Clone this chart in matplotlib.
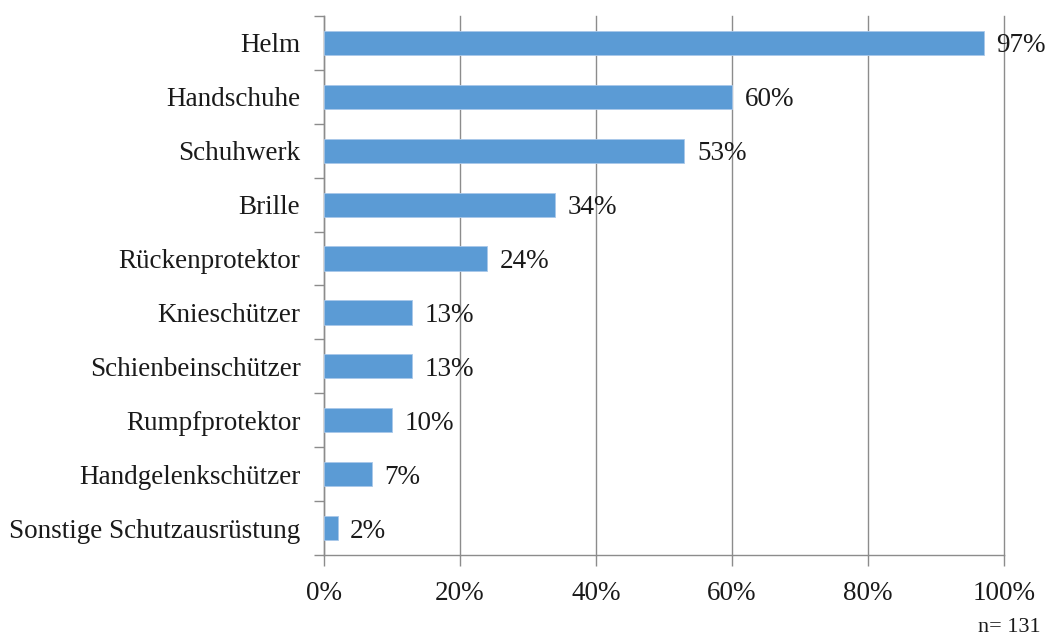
import matplotlib
matplotlib.use("Agg")
import matplotlib.pyplot as plt
from matplotlib.ticker import FixedLocator, PercentFormatter
import numpy as np

categories = [
    "Helm",
    "Handschuhe",
    "Schuhwerk",
    "Brille",
    "Rückenprotektor",
    "Knieschützer",
    "Schienbeinschützer",
    "Rumpfprotektor",
    "Handgelenkschützer",
    "Sonstige Schutzausrüstung",
]
values = [97, 60, 53, 34, 24, 13, 13, 10, 7, 2]
x_ticks = [0, 20, 40, 60, 80, 100]
sample_note = "n= 131"

plt.rcParams["font.family"] = ["Liberation Serif", "DejaVu Serif"]

bar_color = "#5B9BD5"
grid_color = "#8C8C8C"
text_color = "#1a1a1a"
fs = 19.5

fig = plt.figure(figsize=(10.51, 6.42), dpi=100)
ax = fig.add_axes([324 / 1051, 1 - 555 / 642, 680 / 1051, 539 / 642])

y = np.arange(len(categories))
ax.barh(y, values, height=0.45, color=bar_color, edgecolor="#A9C8EA",
        linewidth=0.6, zorder=3)

for yi, v in zip(y, values):
    ax.annotate(f"{v}%", (v, yi), xytext=(9, 0), textcoords="offset points",
                va="center_baseline", ha="left", fontsize=fs, color=text_color,
                zorder=4)

ax.set_xlim(0, 100)
ax.set_ylim(len(categories) - 0.5, -0.5)

ax.xaxis.set_major_locator(FixedLocator(x_ticks))
ax.xaxis.set_major_formatter(PercentFormatter(decimals=0))
ax.grid(axis="x", color=grid_color, linewidth=1.0, zorder=0)
for gl in ax.get_xgridlines():
    gl.set_clip_on(False)

ax.set_yticks(y)
ax.set_yticklabels(categories)
ax.set_yticks(np.arange(-0.5, len(categories)), minor=True)

ax.tick_params(axis="y", which="major", length=0, pad=17, labelsize=fs,
               labelcolor=text_color)
ax.tick_params(axis="y", which="minor", length=7, width=1, color=grid_color,
               direction="out")
ax.tick_params(axis="x", which="major", length=8, width=1, color=grid_color,
               pad=11, labelsize=fs, labelcolor=text_color, direction="out")

for side in ("top", "right"):
    ax.spines[side].set_visible(False)
for side in ("left", "bottom"):
    ax.spines[side].set_color(grid_color)
    ax.spines[side].set_linewidth(1.0)

fig.text(1041 / 1051, 1 - 628 / 642, sample_note, ha="right", va="center",
         fontsize=16, color=text_color)

fig.savefig("out.png", dpi=100, facecolor="white")
